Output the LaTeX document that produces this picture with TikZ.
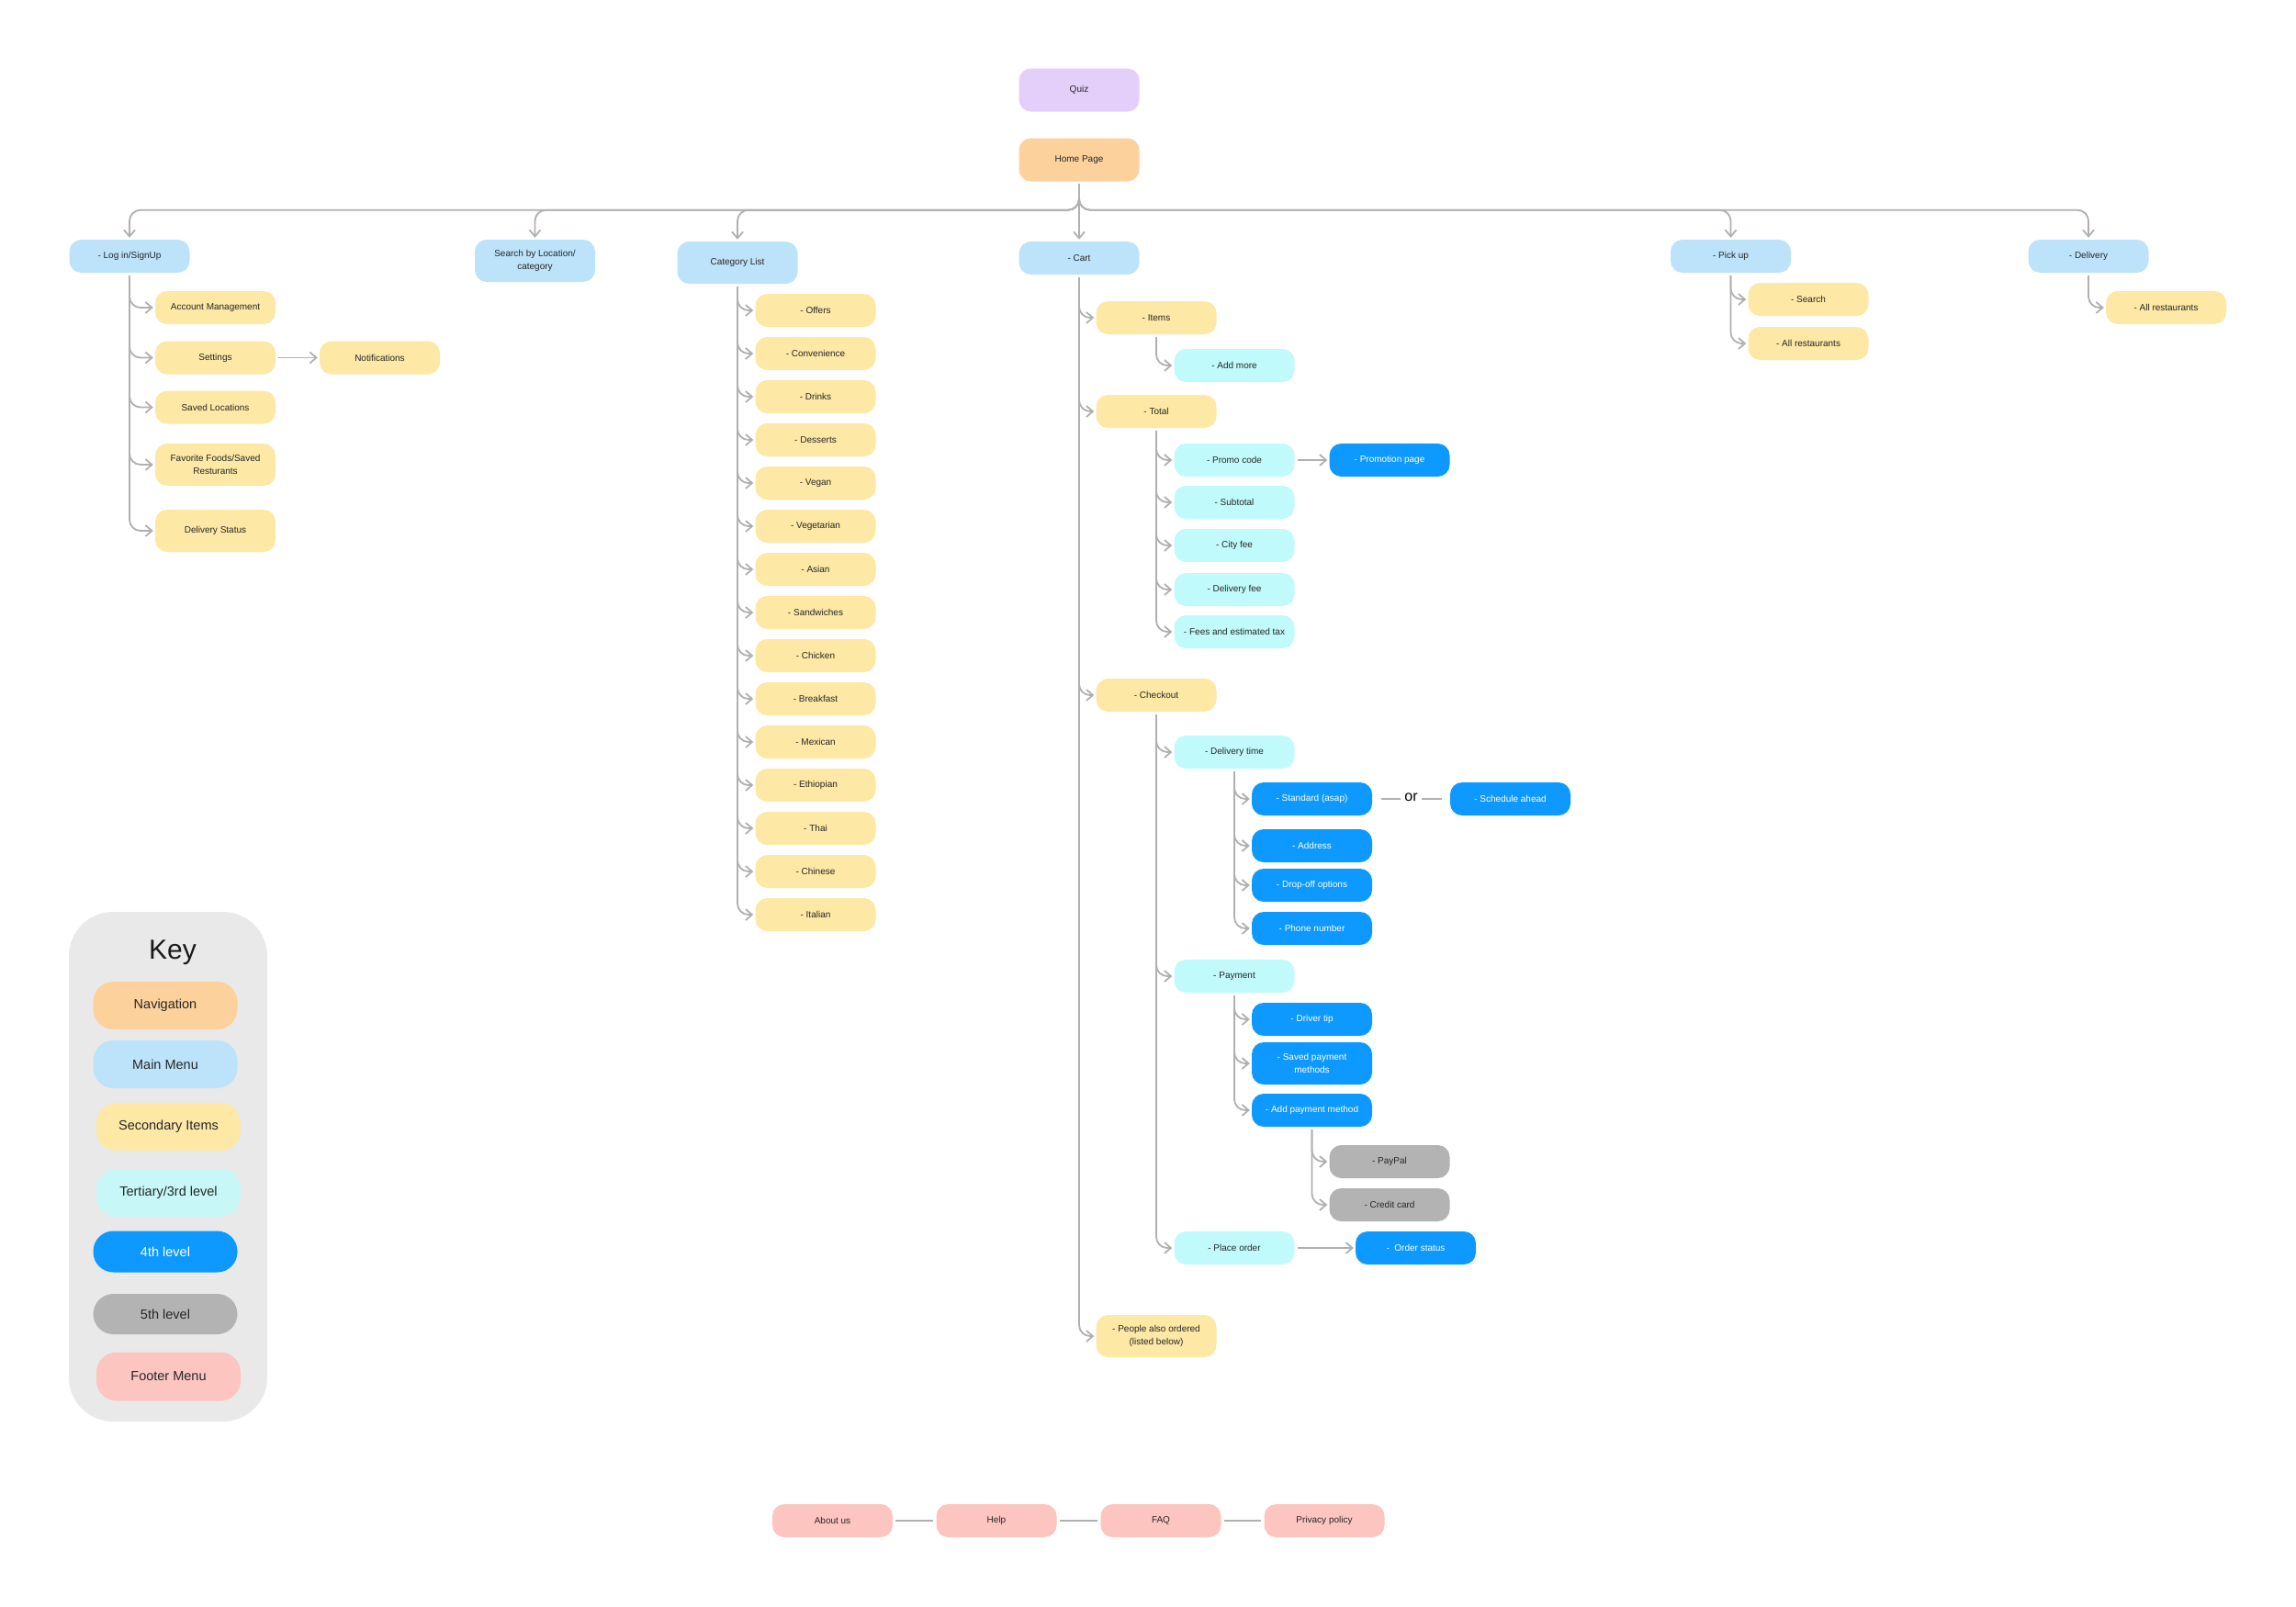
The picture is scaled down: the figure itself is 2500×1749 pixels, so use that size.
\documentclass[tikz,border=0pt]{standalone}
\usepackage{fontspec}
\setmainfont{Liberation Sans}
\usetikzlibrary{arrows.meta}

\definecolor{quizc}{RGB}{228,206,250}
\definecolor{navc}{RGB}{252,209,156}
\definecolor{mainc}{RGB}{189,227,250}
\definecolor{secc}{RGB}{253,232,165}
\definecolor{terc}{RGB}{192,250,250}
\definecolor{fourc}{RGB}{13,153,255}
\definecolor{fifc}{RGB}{179,179,179}
\definecolor{footc}{RGB}{252,197,192}
\definecolor{keyc}{RGB}{233,233,233}
\definecolor{linec}{RGB}{176,176,176}

\begin{document}
\begin{tikzpicture}[x=1pt, y=-1pt,
    box/.style={rectangle, rounded corners=13pt, minimum width=131pt, minimum height=36pt, inner sep=2pt, align=center, font=\fontsize{10}{14}\selectfont, text=black!85},
    quiz/.style={box, fill=quizc, minimum height=47pt},
    nav/.style={box, fill=navc, minimum height=47pt},
    mainmenu/.style={box, fill=mainc},
    second/.style={box, fill=secc},
    third/.style={box, fill=terc},
    fourth/.style={box, fill=fourc, text=white},
    fifth/.style={box, fill=fifc},
    footer/.style={box, fill=footc},
    tall/.style={minimum height=46pt},
    keyitem/.style={box, minimum width=157pt, minimum height=52pt, rounded corners=22pt, font=\fontsize{14.5}{17}\selectfont},
    arrow/.style={-{Straight Barb[length=7pt, width=12pt]}, line width=1.8pt, draw=linec, rounded corners=12pt, shorten <=3pt, shorten >=2pt},
    link/.style={line width=1.8pt, draw=linec}
]
\useasboundingbox (0,0) rectangle (2500,1749);

\node[quiz] (quiz) at (1175,98) {Quiz};
\node[nav] (home) at (1175,174) {Home Page};

\node[mainmenu] (login) at (141,279) {- Log in/SignUp};
\node[mainmenu, tall] (search) at (582.5,284) {Search by Location/\\category};
\node[mainmenu, tall] (catlist) at (803,286) {Category List};
\node[mainmenu] (cart) at (1175,281) {- Cart};
\node[mainmenu] (pickup) at (1884.5,279) {- Pick up};
\node[mainmenu] (delivery) at (2274,279) {- Delivery};

\draw[arrow] (home.south) -- ++(0,31) -| (login.north);
\draw[arrow] (home.south) -- ++(0,31) -| (search.north);
\draw[arrow] (home.south) -- ++(0,31) -| (catlist.north);
\draw[arrow] (home.south) -- (cart.north);
\draw[arrow] (home.south) -- ++(0,31) -| (pickup.north);
\draw[arrow] (home.south) -- ++(0,31) -| (delivery.north);

\node[second] (account) at (234.5,335) {Account Management};
\node[second] (settings) at (234.5,389.5) {Settings};
\node[second] (notif) at (413.5,389.5) {Notifications};
\node[second] (savedloc) at (234.5,443.5) {Saved Locations};
\node[second, tall] (favfood) at (234.5,506) {Favorite Foods/Saved\\Resturants};
\node[second, tall] (delstatus) at (234.5,578) {Delivery Status};

\draw[arrow] (login.south) |- (account.west);
\draw[arrow] (login.south) |- (settings.west);
\draw[arrow] (login.south) |- (savedloc.west);
\draw[arrow] (login.south) |- (favfood.west);
\draw[arrow] (login.south) |- (delstatus.west);
\draw[arrow] (settings) -- (notif);

\node[second] (offers) at (888,338) {- Offers};
\node[second] (conv) at (888,385) {- Convenience};
\node[second] (drinks) at (888,432) {- Drinks};
\node[second] (desserts) at (888,479) {- Desserts};
\node[second] (vegan) at (888,526) {- Vegan};
\node[second] (vegetarian) at (888,573) {- Vegetarian};
\node[second] (asian) at (888,620) {- Asian};
\node[second] (sandwiches) at (888,667) {- Sandwiches};
\node[second] (chicken) at (888,714) {- Chicken};
\node[second] (breakfast) at (888,761) {- Breakfast};
\node[second] (mexican) at (888,808) {- Mexican};
\node[second] (ethiopian) at (888,855) {- Ethiopian};
\node[second] (thai) at (888,902) {- Thai};
\node[second] (chinese) at (888,949) {- Chinese};
\node[second] (italian) at (888,996) {- Italian};

\draw[arrow] (catlist.south) |- (offers.west);
\draw[arrow] (catlist.south) |- (conv.west);
\draw[arrow] (catlist.south) |- (drinks.west);
\draw[arrow] (catlist.south) |- (desserts.west);
\draw[arrow] (catlist.south) |- (vegan.west);
\draw[arrow] (catlist.south) |- (vegetarian.west);
\draw[arrow] (catlist.south) |- (asian.west);
\draw[arrow] (catlist.south) |- (sandwiches.west);
\draw[arrow] (catlist.south) |- (chicken.west);
\draw[arrow] (catlist.south) |- (breakfast.west);
\draw[arrow] (catlist.south) |- (mexican.west);
\draw[arrow] (catlist.south) |- (ethiopian.west);
\draw[arrow] (catlist.south) |- (thai.west);
\draw[arrow] (catlist.south) |- (chinese.west);
\draw[arrow] (catlist.south) |- (italian.west);

\node[second] (items) at (1259,346) {- Items};
\node[third] (addmore) at (1344,398) {- Add more};
\node[second] (total) at (1259,448) {- Total};
\node[third] (promo) at (1344,501) {- Promo code};
\node[fourth] (promopage) at (1513,501) {- Promotion page};
\node[third] (subtotal) at (1344,547) {- Subtotal};
\node[third] (cityfee) at (1344,594) {- City fee};
\node[third] (delfee) at (1344,642) {- Delivery fee};
\node[third] (fees) at (1344,688) {- Fees and estimated tax};

\draw[arrow] (cart.south) |- (items.west);
\draw[arrow] (items.south) |- (addmore.west);
\draw[arrow] (cart.south) |- (total.west);
\draw[arrow] (total.south) |- (promo.west);
\draw[arrow] (total.south) |- (subtotal.west);
\draw[arrow] (total.south) |- (cityfee.west);
\draw[arrow] (total.south) |- (delfee.west);
\draw[arrow] (total.south) |- (fees.west);
\draw[arrow] (promo) -- (promopage);

\node[second] (checkout) at (1259,757) {- Checkout};
\node[third] (deltime) at (1344,819) {- Delivery time};
\node[fourth] (standard) at (1428.5,870) {- Standard (asap)};
\node[font=\fontsize{16}{18}\selectfont] (ortext) at (1536.5,868) {or};
\node[fourth] (schedule) at (1644.5,870) {- Schedule ahead};
\node[fourth] (address) at (1428.5,921) {- Address};
\node[fourth] (dropoff) at (1428.5,964) {- Drop-off options};
\node[fourth] (phone) at (1428.5,1011) {- Phone number};
\node[third] (payment) at (1344,1063) {- Payment};
\node[fourth] (drivertip) at (1428.5,1110) {- Driver tip};
\node[fourth, tall] (savedpay) at (1428.5,1158) {- Saved payment\\methods};
\node[fourth] (addpay) at (1428.5,1209) {- Add payment method};
\node[fifth] (paypal) at (1513,1265) {- PayPal};
\node[fifth] (credit) at (1513,1312) {- Credit card};
\node[third] (placeorder) at (1344,1359) {- Place order};
\node[fourth] (orderstatus) at (1541.5,1359) {-\ \ Order status};
\node[second, tall] (people) at (1259,1455) {- People also ordered\\(listed below)};

\draw[arrow] (cart.south) |- (checkout.west);
\draw[arrow] (checkout.south) |- (deltime.west);
\draw[arrow] (deltime.south) |- (standard.west);
\draw[arrow] (deltime.south) |- (address.west);
\draw[arrow] (deltime.south) |- (dropoff.west);
\draw[arrow] (deltime.south) |- (phone.west);
\draw[link, shorten <=10pt, shorten >=1pt] (standard.east) -- (ortext.west |- standard.east);
\draw[link, shorten <=1pt, shorten >=9pt] (ortext.east |- schedule.west) -- (schedule.west);
\draw[arrow] (checkout.south) |- (payment.west);
\draw[arrow] (payment.south) |- (drivertip.west);
\draw[arrow] (payment.south) |- (savedpay.west);
\draw[arrow] (payment.south) |- (addpay.west);
\draw[arrow] (addpay.south) |- (paypal.west);
\draw[arrow] (addpay.south) |- (credit.west);
\draw[arrow] (checkout.south) |- (placeorder.west);
\draw[arrow] (placeorder) -- (orderstatus);
\draw[arrow] (cart.south) |- (people.west);

\node[second] (pksearch) at (1969,326) {- Search};
\node[second] (pkall) at (1969,374) {- All restaurants};
\node[second] (dlall) at (2358.5,335) {- All restaurants};

\draw[arrow] (pickup.south) |- (pksearch.west);
\draw[arrow] (pickup.south) |- (pkall.west);
\draw[arrow] (delivery.south) |- (dlall.west);

\node[footer] (about) at (906.5,1656) {About us};
\node[footer] (help) at (1085,1656) {Help};
\node[footer] (faq) at (1264,1656) {FAQ};
\node[footer] (privacy) at (1442,1656) {Privacy policy};

\draw[link, shorten <=3pt, shorten >=3pt] (about) -- (help);
\draw[link, shorten <=3pt, shorten >=3pt] (help) -- (faq);
\draw[link, shorten <=3pt, shorten >=3pt] (faq) -- (privacy);

\fill[keyc, rounded corners=48pt] (75,993) rectangle (291,1548);
\node[font=\fontsize{30}{34}\selectfont, text=black!90] (keytitle) at (188,1037) {Key};
\node[keyitem, fill=navc] (knav) at (180,1095) {Navigation};
\node[keyitem, fill=mainc] (kmain) at (180,1159) {Main Menu};
\node[keyitem, fill=secc] (ksec) at (183.5,1227) {Secondary Items};
\node[keyitem, fill=terc!80!keyc] (kter) at (183.5,1299) {Tertiary/3rd level};
\node[keyitem, fill=fourc, text=white, minimum height=45pt] (kfour) at (180,1363) {4th level};
\node[keyitem, fill=fifc, minimum height=44pt] (kfive) at (180,1431) {5th level};
\node[keyitem, fill=footc, minimum height=53pt] (kfoot) at (183.5,1499) {Footer Menu};
\end{tikzpicture}
\end{document}
